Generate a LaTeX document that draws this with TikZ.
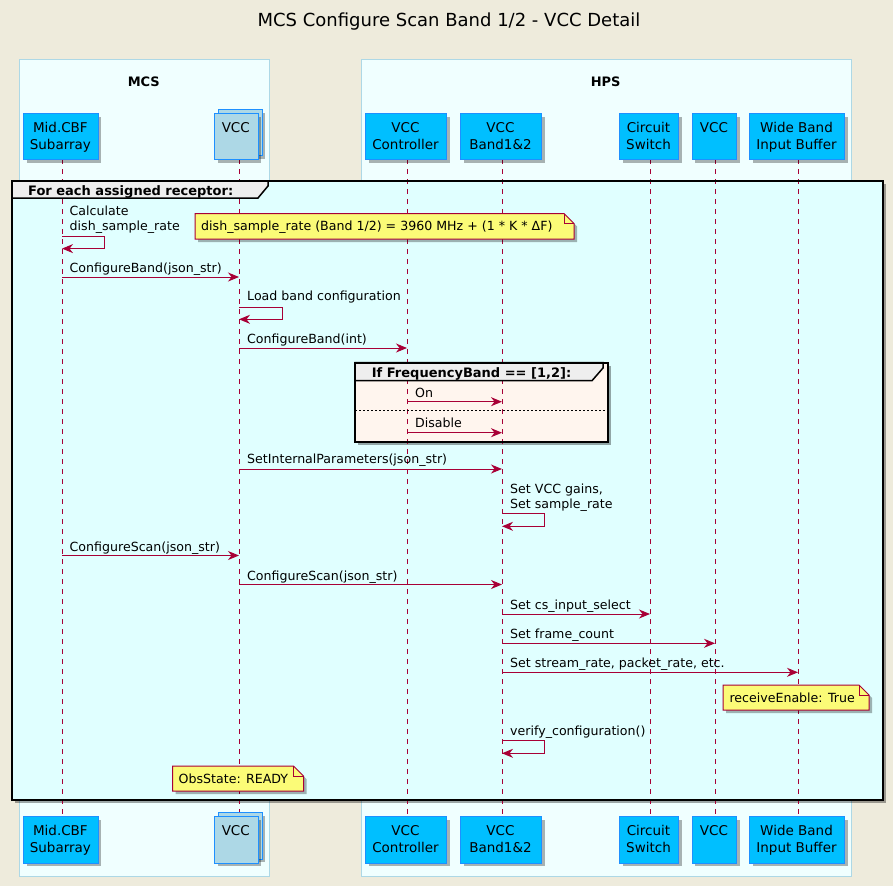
\documentclass[tikz,border=0pt]{standalone}
\usepackage{fontspec}
\setmainfont{DejaVu Sans}
\usetikzlibrary{arrows.meta,shadows}
\definecolor{bgc}{HTML}{EEEBDC}
\definecolor{boxfill}{HTML}{F0FFFF}
\definecolor{boxline}{HTML}{ADD8E6}
\definecolor{loopfill}{HTML}{E0FFFF}
\definecolor{altfill}{HTML}{FFF5EE}
\definecolor{tabfill}{HTML}{EEEEEE}
\definecolor{pfill}{HTML}{00BFFF}
\definecolor{pline}{HTML}{1E90FF}
\definecolor{cfill}{HTML}{ADD8E6}
\definecolor{msgc}{HTML}{A80036}
\definecolor{notefill}{HTML}{FBFB77}
\tikzset{
  shd/.style={drop shadow={shadow xshift=3pt,shadow yshift=-3pt,opacity=0.3,fill=black}},
  part/.style={draw=pline,fill=pfill,line width=1pt,inner sep=0pt,anchor=north west,shd},
  coll/.style={draw=pline,fill=cfill,line width=1pt,inner sep=0pt,anchor=north west,shd},
  ptxt/.style={anchor=base,inner sep=0pt,font=\fontsize{13.5}{16}\selectfont},
  mtxt/.style={anchor=base west,inner sep=0pt,font=\fontsize{12.6}{15}\selectfont},
  btxt/.style={anchor=base,inner sep=0pt,font=\fontsize{13}{15}\selectfont\bfseries},
  ftxt/.style={anchor=base west,inner sep=0pt,font=\fontsize{13}{15}\selectfont\bfseries},
  msgarrow/.style={draw=msgc,line width=1pt,-{Stealth[length=11pt,width=9pt,inset=3.5pt]}},
  lifeline/.style={draw=msgc,line width=1pt,dash pattern=on 5pt off 5pt},
  notebox/.style={draw=msgc,fill=notefill,line width=1pt,shd},
  fold/.style={draw=msgc,line width=1pt},
  framebox/.style={draw=black,line width=2.5pt},
  tabbox/.style={draw=black,fill=tabfill,line width=1.5pt},
}
\begin{document}
\begin{tikzpicture}[x=1pt,y=-1pt]
\fill[bgc] (0,0) rectangle (893,886);
\useasboundingbox (0,0) rectangle (893,886);
% title
\node[anchor=base,inner sep=0pt,font=\fontsize{18}{20}\selectfont] (title) at (449,26.7) {MCS Configure Scan Band 1/2 - VCC Detail};
% group boxes
\draw[fill=boxfill,draw=boxline,line width=1pt] (19,59.7) rectangle (269,876.5);
\draw[fill=boxfill,draw=boxline,line width=1pt] (361,59.7) rectangle (851,876.5);
\node[btxt] (mcslbl) at (143.8,86.7) {MCS};
\node[btxt] (hpslbl) at (605.7,86.7) {HPS};
% lifeline x coordinates
\coordinate (L1) at (62,0);
\coordinate (L2) at (239,0);
\coordinate (L3) at (407,0);
\coordinate (L4) at (502,0);
\coordinate (L5) at (650,0);
\coordinate (L6) at (715,0);
\coordinate (L7) at (798,0);
% loop frame background
\fill[black,opacity=0.35] (15,184) rectangle (886,803);
\fill[loopfill] (12,181) rectangle (883,800);
% alt frame background
\fill[black,opacity=0.35] (358,365.7) rectangle (610.7,444.7);
\fill[altfill] (355,362.7) rectangle (607.7,441.7);
% lifelines
\foreach \L in {L1,L2,L3,L4,L5,L6,L7}{
  \draw[lifeline] (\L |- 0,159.3) -- (\L |- 0,815.7);
}
% loop frame border and tab
\filldraw[tabbox] (12,181) -- (268,181) -- (268,186) -- (258,198) -- (12,198) -- cycle;
\draw[framebox] (12,181) rectangle (883,800);
\node[ftxt] (looplbl) at (28,195) {For each assigned receptor:};
% alt frame border and tab
\draw[black,line width=1pt,dash pattern=on 2pt off 2pt] (355,410) -- (607.7,410);
\filldraw[tabbox] (355,362.7) -- (603,362.7) -- (603,368) -- (592,380.7) -- (355,380.7) -- cycle;
\draw[black,line width=2.2pt] (355,362.7) rectangle (607.7,441.7);
\node[ftxt] (altlbl) at (371.7,377.5) {If FrequencyBand == [1,2]:};
% messages
\node[mtxt] (t1a) at (69.5,215.2) {Calculate};
\node[mtxt] (t1b) at (69.5,230.2) {dish\_sample\_rate};
\draw[msgarrow] (L1 |- 0,236) -- (104.3,236) -- (104.3,248.6) -- (L1 |- 0,248.6);
\node[mtxt] (t2) at (69.5,272.5) {ConfigureBand(json\_str)};
\draw[msgarrow] (L1 |- 0,277) -- (L2 |- 0,277);
\node[mtxt] (t3) at (247,300.5) {Load band configuration};
\draw[msgarrow] (L2 |- 0,307) -- (282,307) -- (282,319.3) -- (L2 |- 0,319.3);
\node[mtxt] (t4) at (247,343.5) {ConfigureBand(int)};
\draw[msgarrow] (L2 |- 0,348) -- (L3 |- 0,348);
\node[mtxt] (t5) at (415,397.2) {On};
\draw[msgarrow] (L3 |- 0,401.7) -- (L4 |- 0,401.7);
\node[mtxt] (t6) at (415,427.5) {Disable};
\draw[msgarrow] (L3 |- 0,432.7) -- (L4 |- 0,432.7);
\node[mtxt] (t7) at (247,463.5) {SetInternalParameters(json\_str)};
\draw[msgarrow] (L2 |- 0,469) -- (L4 |- 0,469);
\node[mtxt] (t8a) at (510,493.5) {Set VCC gains,};
\node[mtxt] (t8b) at (510,508.5) {Set sample\_rate};
\draw[msgarrow] (L4 |- 0,513.7) -- (544.5,513.7) -- (544.5,526.3) -- (L4 |- 0,526.3);
\node[mtxt] (t9) at (69.5,551.2) {ConfigureScan(json\_str)};
\draw[msgarrow] (L1 |- 0,555.5) -- (L2 |- 0,555.5);
\node[mtxt] (t10) at (247,580.2) {ConfigureScan(json\_str)};
\draw[msgarrow] (L2 |- 0,584.5) -- (L4 |- 0,584.5);
\node[mtxt] (t11) at (510,609.5) {Set cs\_input\_select};
\draw[msgarrow] (L4 |- 0,614) -- (L5 |- 0,614);
\node[mtxt] (t12) at (510,638.8) {Set frame\_count};
\draw[msgarrow] (L4 |- 0,643.3) -- (L6 |- 0,643.3);
\node[mtxt] (t13) at (510,667.8) {Set stream\_rate, packet\_rate, etc.};
\draw[msgarrow] (L4 |- 0,672.3) -- (L7 |- 0,672.3);
\node[mtxt] (t14) at (510,735.2) {verify\_configuration()};
\draw[msgarrow] (L4 |- 0,740.3) -- (544.5,740.3) -- (544.5,753.3) -- (L4 |- 0,753.3);
% notes
\path[notebox] (195,213.5) -- (564,213.5) -- (574,223.5) -- (574,239) -- (195,239) -- cycle;
\draw[fold] (564,213.5) -- (564,223.5) -- (574,223.5);
\node[mtxt] (n1) at (201,230.3) {dish\_sample\_rate (Band 1/2) = 3960 MHz + (1 * K * ΔF)};
\path[notebox] (723,685) -- (859,685) -- (869,695) -- (869,710) -- (723,710) -- cycle;
\draw[fold] (859,685) -- (859,695) -- (869,695);
\node[mtxt] (n2) at (729.3,702.3) {receiveEnable: True};
\path[notebox] (172.5,766) -- (293.5,766) -- (303.5,776) -- (303.5,791) -- (172.5,791) -- cycle;
\draw[fold] (293.5,766) -- (293.5,776) -- (303.5,776);
\node[mtxt] (n3) at (178.5,783) {ObsState: READY};
% participants top
\node[part,minimum width=74.7pt,minimum height=46pt] (p1) at (23,113.3) {};
\node[coll,minimum width=43.5pt,minimum height=46pt] (p2back) at (218,109.3) {};
\node[coll,minimum width=43.5pt,minimum height=46pt] (p2) at (214,113.3) {};
\node[part,minimum width=81pt,minimum height=46pt] (p3) at (365,113.3) {};
\node[part,minimum width=81pt,minimum height=46pt] (p4) at (460,113.3) {};
\node[part,minimum width=59pt,minimum height=46pt] (p5) at (619,113.3) {};
\node[part,minimum width=44.3pt,minimum height=46pt] (p6) at (691.7,113.3) {};
\node[part,minimum width=95pt,minimum height=46pt] (p7) at (749,113.3) {};
\node[ptxt] (p1a) at (60.4,132.8) {Mid.CBF};
\node[ptxt] (p1b) at (60.4,149.8) {Subarray};
\node[ptxt] (p2a) at (235.8,132.8) {VCC};
\node[ptxt] (p3a) at (405.5,132.8) {VCC};
\node[ptxt] (p3b) at (405.5,149.8) {Controller};
\node[ptxt] (p4a) at (500.5,132.8) {VCC};
\node[ptxt] (p4b) at (500.5,149.8) {Band1\&2};
\node[ptxt] (p5a) at (648.5,132.8) {Circuit};
\node[ptxt] (p5b) at (648.5,149.8) {Switch};
\node[ptxt] (p6a) at (713.9,132.8) {VCC};
\node[ptxt] (p7a) at (796.5,132.8) {Wide Band};
\node[ptxt] (p7b) at (796.5,149.8) {Input Buffer};
% participants bottom
\node[part,minimum width=74.7pt,minimum height=46.5pt] (q1) at (23,816) {};
\node[coll,minimum width=43.5pt,minimum height=46.5pt] (q2back) at (218,812) {};
\node[coll,minimum width=43.5pt,minimum height=46.5pt] (q2) at (214,816) {};
\node[part,minimum width=81pt,minimum height=46.5pt] (q3) at (365,816) {};
\node[part,minimum width=81pt,minimum height=46.5pt] (q4) at (460,816) {};
\node[part,minimum width=59pt,minimum height=46.5pt] (q5) at (619,816) {};
\node[part,minimum width=44.3pt,minimum height=46.5pt] (q6) at (691.7,816) {};
\node[part,minimum width=95pt,minimum height=46.5pt] (q7) at (749,816) {};
\node[ptxt] (q1a) at (60.4,835.5) {Mid.CBF};
\node[ptxt] (q1b) at (60.4,852.5) {Subarray};
\node[ptxt] (q2a) at (235.8,835.5) {VCC};
\node[ptxt] (q3a) at (405.5,835.5) {VCC};
\node[ptxt] (q3b) at (405.5,852.5) {Controller};
\node[ptxt] (q4a) at (500.5,835.5) {VCC};
\node[ptxt] (q4b) at (500.5,852.5) {Band1\&2};
\node[ptxt] (q5a) at (648.5,835.5) {Circuit};
\node[ptxt] (q5b) at (648.5,852.5) {Switch};
\node[ptxt] (q6a) at (713.9,835.5) {VCC};
\node[ptxt] (q7a) at (796.5,835.5) {Wide Band};
\node[ptxt] (q7b) at (796.5,852.5) {Input Buffer};
\end{tikzpicture}
\end{document}
